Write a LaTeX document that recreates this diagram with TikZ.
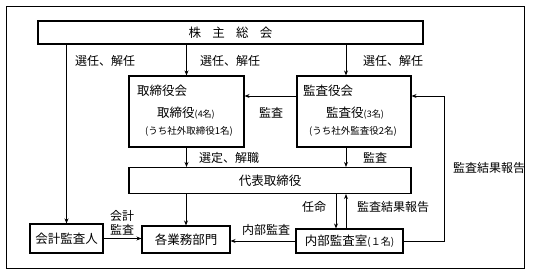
\documentclass[tikz,border=0pt]{standalone}
\usepackage{fontspec}
\setmainfont{Noto Sans CJK JP}
\usetikzlibrary{arrows.meta, positioning, calc}

\begin{document}
\begin{tikzpicture}[x=1pt, y=-1pt,
    box/.style={draw, line width=1.1pt, inner sep=0pt, font=\fontsize{12.5}{14}\selectfont},
    lbl/.style={inner sep=1pt, font=\fontsize{12}{14}\selectfont},
    sml/.style={inner sep=1pt, font=\fontsize{9.5}{11}\selectfont},
    conn/.style={line width=0.9pt, -{Stealth[length=5pt, width=4pt]}}]
    \useasboundingbox (0,0) rectangle (533,275);
    \draw[line width=0.8pt] (6,6) rectangle (524,268);
    % boxes
    \node[box, minimum width=385pt, minimum height=23pt] (soukai) at (230.5,32.5)
      {株\hspace{0.9em}主\hspace{0.9em}総\hspace{0.9em}会};
    \node[box, minimum width=115pt, minimum height=71pt] (tori) at (186.5,111.5) {};
    \node[box, minimum width=114pt, minimum height=71pt] (kansa) at (354,111.5) {};
    \node[box, minimum width=282pt, minimum height=26pt] (daihyo) at (270,180.5) {代表取締役};
    \node[box, minimum width=88pt, minimum height=27pt] (gyomu) at (186,239.5) {各業務部門};
    \node[box, minimum width=73pt, minimum height=29pt] (kaikei) at (66.5,238.5) {会計監査人};
    \node[box, minimum width=107pt, minimum height=24pt] (naibu) at (349.5,241)
      {内部監査室{\fontsize{10}{12}\selectfont(１名)}};
    % texts in the boards
    \node[lbl, anchor=west, font=\fontsize{12.5}{14}\selectfont] (toriT) at (136,91) {取締役会};
    \node[lbl, font=\fontsize{12.5}{14}\selectfont] (toriM) at (186,113) {取締役{\fontsize{9}{11}\selectfont(4名)}};
    \node[sml] (toriS) at (189,131) {(うち社外取締役1名)};
    \node[lbl, anchor=west, font=\fontsize{12.5}{14}\selectfont] (kansaT) at (302,91) {監査役会};
    \node[lbl, font=\fontsize{12.5}{14}\selectfont] (kansaM) at (355,113) {監査役{\fontsize{9}{11}\selectfont(3名)}};
    \node[sml] (kansaS) at (353,131) {(うち社外監査役2名)};
    % helper coordinates
    \coordinate (kx) at (346,0);
    \coordinate (nx) at (336,0);
    \coordinate (ky) at (0,96);
    \coordinate (rx) at (444,96);
    % connectors
    \draw[conn] (kaikei.north |- soukai.south) -- (kaikei.north);
    \draw[conn] (tori.north |- soukai.south) -- (tori.north);
    \draw[conn] (kx |- soukai.south) -- (kx |- kansa.north);
    \draw[conn] (ky -| kansa.west) -- (ky -| tori.east);
    \draw[conn] (tori.south) -- (tori.south |- daihyo.north);
    \draw[conn] (kx |- kansa.south) -- (kx |- daihyo.north);
    \draw[conn] (gyomu.north |- daihyo.south) -- (gyomu.north);
    \draw[conn] (nx |- daihyo.south) -- (nx |- naibu.north);
    \draw[conn] (kx |- naibu.north) -- (kx |- daihyo.south);
    \draw[conn] (kaikei.east) -- (kaikei.east -| gyomu.west);
    \draw[conn] (naibu.west) -- (naibu.west -| gyomu.east);
    \draw[conn] (naibu.east) -| (rx) -- (rx -| kansa.east);
    % labels
    \node[lbl] (l1) at (105,61) {選任、解任};
    \node[lbl] (l2) at (230,61) {選任、解任};
    \node[lbl] (l3) at (393,61) {選任、解任};
    \node[lbl] (l4) at (271,113) {監査};
    \node[lbl] (l5) at (229,158) {選定、解職};
    \node[lbl] (l6) at (375,158) {監査};
    \node[lbl] (l7) at (489,168) {監査結果報告};
    \node[lbl] (l8) at (314,207) {任命};
    \node[lbl] (l9) at (393,207) {監査結果報告};
    \node[lbl, align=center, font=\fontsize{12}{14}\selectfont] (l10) at (122,223) {会計\\監査};
    \node[lbl] (l11) at (266,230) {内部監査};
\end{tikzpicture}
\end{document}
